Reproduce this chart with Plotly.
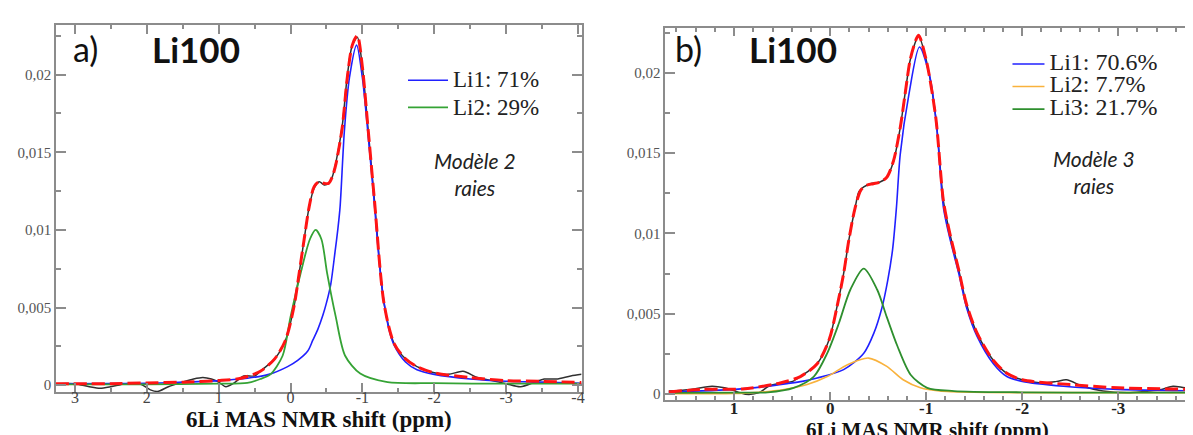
import plotly.graph_objects as go

W, H = 1193, 435

# ---------------- Panel a) : 2-line model ----------------
A_EXP_X = [3.27, 3.0, 2.8, 2.65, 2.5, 2.3, 2.1, 1.95, 1.85, 1.7, 1.5, 1.35, 1.22, 1.1, 1.0, 0.9, 0.8,
           0.65, 0.5, 0.42, 0.22, 0.07, -0.05, -0.12, -0.19, -0.26, -0.33, -0.40, -0.47, -0.53, -0.58,
           -0.63, -0.72, -0.79, -0.86, -0.93, -1.0, -1.07, -1.17, -1.30, -1.44, -1.6, -1.76, -2.0,
           -2.2, -2.4, -2.6, -2.8, -3.0, -3.2, -3.4, -3.53, -3.7, -3.9, -4.05]
A_EXP_Y = [0.0001, 0.0001, -0.0001, -0.0002, -0.0001, 0.0001, 0.0001, -0.0003, -0.0004, -0.0001,
           0.0002, 0.0004, 0.0005, 0.0004, 0.0002, -0.0001, 0.0001, 0.0006, 0.0006, 0.0009, 0.0017,
           0.0029, 0.0051, 0.0072, 0.0094, 0.0115, 0.0127, 0.0131, 0.0129, 0.0130, 0.0134, 0.0143,
           0.0167, 0.0199, 0.0219, 0.0224, 0.0205, 0.0170, 0.0118, 0.0053, 0.0027, 0.0017, 0.0012,
           0.0008, 0.0007, 0.0009, 0.0005, 0.0003, 0.0001, -0.0001, 0.0002, 0.0004, 0.0004, 0.0006,
           0.0007]

A_FIT_X = [3.27, 2.5, 2.0, 1.5, 1.0, 0.69, 0.42, 0.22, 0.07, -0.05, -0.12, -0.19, -0.26, -0.33,
           -0.40, -0.47, -0.53, -0.58, -0.63, -0.72, -0.79, -0.86, -0.93, -1.0, -1.07, -1.17, -1.30,
           -1.44, -1.6, -1.76, -2.0, -2.5, -3.0, -3.5, -4.05]
A_FIT_Y = [0.0001, 0.0001, 0.00015, 0.0002, 0.0003, 0.00045, 0.0009, 0.0017, 0.0029, 0.0051, 0.0072,
           0.0094, 0.0115, 0.0128, 0.0131, 0.0130, 0.0130, 0.0134, 0.0142, 0.0166, 0.0198, 0.0219,
           0.0225, 0.0205, 0.0170, 0.0118, 0.0053, 0.0027, 0.0017, 0.0012, 0.0008, 0.0005, 0.0003,
           0.00025, 0.00018]

A_LI1_X = [3.27, 2.5, 2.0, 1.5, 1.0, 0.6, 0.3, 0.04, -0.1, -0.24, -0.31, -0.38, -0.45, -0.50, -0.56,
           -0.62, -0.66, -0.69, -0.75, -0.82, -0.92, -1.0, -1.07, -1.17, -1.24, -1.30, -1.37, -1.44,
           -1.6, -1.76, -2.0, -2.5, -3.0, -3.5, -4.05]
A_LI1_Y = [0.0001, 0.00011, 0.00012, 0.0002, 0.0003, 0.00045, 0.0007, 0.0012, 0.0016, 0.0022, 0.0029,
           0.0036, 0.0045, 0.0053, 0.0065, 0.0086, 0.0101, 0.0115, 0.0164, 0.0198, 0.0219, 0.0198,
           0.0166, 0.0115, 0.0077, 0.0054, 0.0036, 0.0026, 0.0015, 0.0010, 0.0007, 0.0004, 0.00026,
           0.0002, 0.00013]

A_LI2_X = [3.27, 2.0, 1.0, 0.6, 0.42, 0.28, 0.11, 0.0, -0.14, -0.27, -0.35, -0.43, -0.51, -0.63,
           -0.76, -0.97, -1.35, -2.0, -3.0, -4.05]
A_LI2_Y = [0.00005, 0.00006, 0.0001, 0.00015, 0.0004, 0.0007, 0.0019, 0.0044, 0.0072, 0.0094, 0.0100,
           0.0094, 0.0072, 0.0044, 0.0019, 0.00075, 0.0002, 0.00013, 0.0001, 0.0001]

A_NAMES = ["Li1: 71%", "Li2: 29%"]
A_XTICKS = [3, 2, 1, 0, -1, -2, -3, -4]
A_XTICKTEXT = ["3", "2", "1", "0", "-1", "-2", "-3", "-4"]

# ---------------- Panel b) : 3-line model ----------------
B_EXP_X = [1.68, 1.45, 1.23, 1.1, 0.99, 0.88, 0.74, 0.64, 0.50, 0.39, 0.31, 0.135, 0.01, -0.07,
           -0.14, -0.195, -0.26, -0.30, -0.35, -0.42, -0.52, -0.59, -0.66, -0.73, -0.78, -0.83,
           -0.87, -0.92, -1.0, -1.1, -1.18, -1.25, -1.34, -1.42, -1.53, -1.70, -1.84, -2.0, -2.2,
           -2.36, -2.46, -2.63, -2.84, -3.12, -3.32, -3.45, -3.57, -3.71, -3.85]
B_EXP_Y = [0.0002, 0.0003, 0.0005, 0.0004, 0.0002, 0.0000, 0.0001, 0.0005, 0.0007, 0.0008, 0.0011,
           0.0019, 0.0034, 0.0054, 0.0075, 0.0096, 0.0116, 0.0126, 0.0129, 0.0131, 0.0132, 0.0135,
           0.0145, 0.0166, 0.0187, 0.0207, 0.0216, 0.0223, 0.0208, 0.0172, 0.0120, 0.0099, 0.0077,
           0.0056, 0.0038, 0.0021, 0.0013, 0.0009, 0.0007, 0.0008, 0.0009, 0.0005, 0.0002, 0.0001,
           0.0002, 0.0003, 0.0005, 0.0004, 0.0005]

B_FIT_X = [1.68, 1.33, 0.91, 0.52, 0.31, 0.135, 0.01, -0.07, -0.14, -0.195, -0.26, -0.32, -0.38,
           -0.45, -0.52, -0.59, -0.66, -0.73, -0.78, -0.83, -0.87, -0.92, -1.0, -1.1, -1.18, -1.25,
           -1.34, -1.42, -1.53, -1.70, -1.84, -2.0, -2.5, -3.0, -3.85]
B_FIT_Y = [0.00014, 0.0003, 0.00033, 0.0007, 0.0011, 0.0019, 0.0034, 0.0054, 0.0075, 0.0096, 0.0116,
           0.0127, 0.0130, 0.0131, 0.0132, 0.0135, 0.01453, 0.0166, 0.01866, 0.0207, 0.02164,
           0.02233, 0.0208, 0.0172, 0.0120, 0.0099, 0.0077, 0.0056, 0.0038, 0.0021, 0.0013, 0.0009,
           0.0006, 0.0004, 0.0003]

B_LI1_X = [1.68, 0.99, 0.65, 0.45, 0.29, 0.135, -0.14, -0.35, -0.455, -0.54, -0.60, -0.65, -0.69,
           -0.73, -0.82, -0.93, -1.04, -1.11, -1.18, -1.25, -1.34, -1.42, -1.53, -1.70, -1.84, -2.0,
           -2.43, -3.0, -3.85]
B_LI1_Y = [0.00014, 0.0003, 0.0005, 0.00066, 0.0008, 0.00101, 0.00153, 0.00255, 0.0038, 0.0054,
           0.0071, 0.0090, 0.0116, 0.01494, 0.01866, 0.0216, 0.0197, 0.0166, 0.0116, 0.0096, 0.0075,
           0.0054, 0.0036, 0.0019, 0.0011, 0.0008, 0.0005, 0.0003, 0.0002]

B_LI2_X = [1.68, 1.0, 0.8, 0.48, 0.24, 0.03, -0.18, -0.40, -0.59, -0.76, -0.94, -1.14, -1.5, -2.0,
           -3.0, -3.85]
B_LI2_Y = [0.00003, 0.00005, 0.0001, 0.0003, 0.0006, 0.0011, 0.00184, 0.00225, 0.00173, 0.0009,
           0.0004, 0.0002, 0.00012, 0.0001, 0.0001, 0.0001]

B_LI3_X = [1.68, 1.0, 0.65, 0.38, 0.17, 0.03, -0.09, -0.21, -0.35, -0.49, -0.59, -0.70, -0.84,
           -1.01, -1.29, -2.0, -3.0, -3.85]
B_LI3_Y = [0.00008, 0.0001, 0.00012, 0.0004, 0.0011, 0.00256, 0.0044, 0.0065, 0.00782, 0.0065,
           0.0048, 0.003, 0.0012, 0.0004, 0.0002, 0.00012, 0.0001, 0.0001]

B_NAMES = ["Li1: 70.6%", "Li2: 7.7%", "Li3: 21.7%"]
B_XTICKS = [1, 0, -1, -2, -3]
B_XTICKTEXT = ["1", "0", "-1", "-2", "-3"]

Y_TICKS = [0, 0.005, 0.01, 0.015, 0.02]
Y_TICKTEXT = ["0", "0,005", "0,01", "0,015", "0,02"]

X_TITLE = "6Li MAS NMR shift (ppm)"

# ---------------- styling ----------------
BLUE = "#2020ff"
GREEN_A = "#35a335"
GREEN_B = "#2e8f2e"
ORANGE = "#f9b23c"
RED = "#ff1414"
BLACK = "#303030"
AXC = "#8c8c8c"
SERIF = "Liberation Serif"
SANS = "Lato"


def px(x):
    return x / W


def py(y):
    return 1 - y / H


fig = go.Figure()


def add_line(x, y, color, width, xa, ya, name=None, legend=None, dash=None, show=False):
    fig.add_trace(go.Scatter(
        x=x, y=y, mode="lines", name=name, showlegend=show, legend=legend,
        line=dict(color=color, width=width, shape="spline", smoothing=0.8, dash=dash),
        xaxis=xa, yaxis=ya, hoverinfo="skip"))


def leg_name(t, size):
    return f"<span style='font-size:{size}px'>{t}</span>"


# panel a
add_line(A_EXP_X, A_EXP_Y, BLACK, 1.5, "x", "y")
add_line(A_LI1_X, A_LI1_Y, BLUE, 1.6, "x", "y", leg_name(A_NAMES[0], 23), "legend", show=True)
add_line(A_LI2_X, A_LI2_Y, GREEN_A, 1.8, "x", "y", leg_name(A_NAMES[1], 23), "legend", show=True)
add_line(A_FIT_X, A_FIT_Y, RED, 3, "x", "y", dash="13px,5px")

# panel b
add_line(B_EXP_X, B_EXP_Y, BLACK, 1.5, "x2", "y2")
add_line(B_LI1_X, B_LI1_Y, BLUE, 1.6, "x2", "y2", leg_name(B_NAMES[0], 24), "legend2", show=True)
add_line(B_LI2_X, B_LI2_Y, ORANGE, 1.6, "x2", "y2", leg_name(B_NAMES[1], 24), "legend2", show=True)
add_line(B_LI3_X, B_LI3_Y, GREEN_B, 1.8, "x2", "y2", leg_name(B_NAMES[2], 24), "legend2", show=True)
add_line(B_FIT_X, B_FIT_Y, RED, 3, "x2", "y2", dash="13px,5px")

common = dict(showline=True, linecolor=AXC, linewidth=1.5, mirror="ticks", ticks="inside",
              tickcolor=AXC, tickwidth=1.5, showgrid=False, zeroline=False, fixedrange=True)

fig.update_layout(
    width=W, height=H,
    margin=dict(l=0, r=0, t=0, b=0),
    paper_bgcolor="white", plot_bgcolor="white",
    font=dict(family=SERIF, color="#333"),
    xaxis=dict(domain=[px(48), px(575)], range=[3.265, -4.05], anchor="y",
               tickmode="array", tickvals=A_XTICKS, ticktext=A_XTICKTEXT, ticklen=9,
               ticklabelstandoff=-10,
               minor=dict(dtick=0.5, tick0=0, ticks="inside", ticklen=4, tickcolor=AXC, tickwidth=1.5),
               tickfont=dict(family=SERIF, size=16, color="#444"), **common),
    yaxis=dict(domain=[py(386), py(17)], range=[-0.00045, 0.0232], anchor="x",
               tickmode="array", tickvals=Y_TICKS, ticktext=Y_TICKTEXT, ticklen=10,
               minor=dict(dtick=0.0025, tick0=0, ticks="inside", ticklen=5, tickcolor=AXC, tickwidth=1.5),
               tickfont=dict(family=SERIF, size=15, color="#555"), **common),
    xaxis2=dict(domain=[px(659), 1.0], range=[1.716, -3.83], anchor="y2",
                tickmode="array", tickvals=B_XTICKS, ticktext=B_XTICKTEXT, ticklen=8,
                ticklabelstandoff=-8,
                minor=dict(dtick=0.2, tick0=0, ticks="inside", ticklen=4, tickcolor=AXC, tickwidth=1.5),
                tickfont=dict(family=SERIF, size=17, color="#222", weight="bold"), **common),
    yaxis2=dict(domain=[py(394), py(20)], range=[-0.00037, 0.02279], anchor="x2",
                tickmode="array", tickvals=Y_TICKS, ticktext=Y_TICKTEXT, ticklen=10,
                minor=dict(dtick=0.0025, tick0=0, ticks="inside", ticklen=5, tickcolor=AXC, tickwidth=1.5),
                tickfont=dict(family=SERIF, size=15, color="#555"), **common),
    legend=dict(x=px(396), y=py(54), xanchor="left", yanchor="top", bgcolor="rgba(0,0,0,0)",
                font=dict(family=SERIF, size=18.5, color="#222"), itemwidth=40, traceorder="normal"),
    legend2=dict(x=px(1002), y=py(40), xanchor="left", yanchor="top", bgcolor="rgba(0,0,0,0)",
                 font=dict(family=SERIF, size=15, color="#222"), itemwidth=32, traceorder="normal"),
    showlegend=True,
)

ann = [
    dict(text="a)", x=px(63), y=py(41), xanchor="left", yanchor="middle",
         font=dict(family=SANS, size=34, color="#111")),
    dict(text="<b>Li100</b>", x=px(142), y=py(41), xanchor="left", yanchor="middle",
         font=dict(family=SANS, size=35, color="#111")),
    dict(text="b)", x=px(667), y=py(41), xanchor="left", yanchor="middle",
         font=dict(family=SANS, size=34, color="#111")),
    dict(text="<b>Li100</b>", x=px(741), y=py(41), xanchor="left", yanchor="middle",
         font=dict(family=SANS, size=35, color="#111")),
    dict(text="<i>Modèle 2<br>raies</i>", x=px(468), y=py(167), xanchor="center", yanchor="middle",
         font=dict(family=SANS, size=21, color="#222")),
    dict(text="<i>Modèle 3<br>raies</i>", x=px(1089), y=py(165), xanchor="center", yanchor="middle",
         font=dict(family=SANS, size=21, color="#222")),
    dict(text=f"<b>{X_TITLE}</b>", x=px(312), y=py(413), xanchor="center", yanchor="middle",
         font=dict(family=SERIF, size=23, color="#111")),
    dict(text=f"<b>{X_TITLE}</b>", x=px(922), y=py(424), xanchor="center", yanchor="middle",
         font=dict(family=SERIF, size=21, color="#111")),
]
for a in ann:
    a.update(xref="paper", yref="paper", showarrow=False)
fig.update_layout(annotations=ann)

fig.write_html("out.html")
